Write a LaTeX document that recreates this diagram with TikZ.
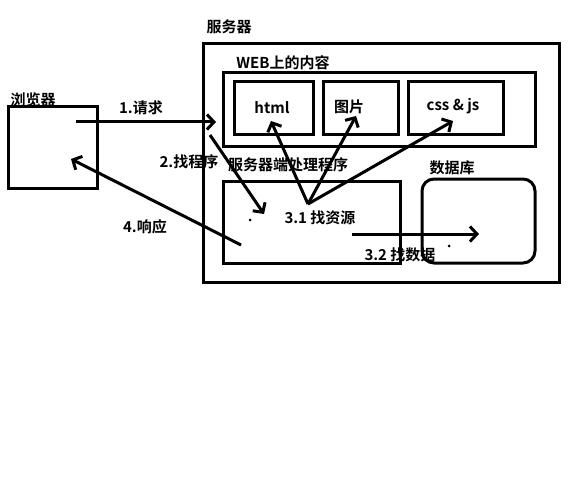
\documentclass[tikz,border=0pt]{standalone}
\usepackage{fontspec}
\setmainfont{Noto Sans CJK SC}[BoldFont={Noto Sans CJK SC Bold}]
\usetikzlibrary{arrows.meta}
\begin{document}
\begin{tikzpicture}[x=1pt,y=-1pt,
  box/.style={draw,line width=3pt,inner sep=0pt},
  lbl/.style={font=\fontsize{15pt}{17pt}\selectfont\bfseries,inner sep=0pt},
  arr/.style={line width=3pt,-{Straight Barb[length=7pt,width=15pt,line width=3pt]}},
  ln/.style={line width=3pt}]
\useasboundingbox (0,0) rectangle (586,500);
\fill[white] (0,0) rectangle (586,500);
% boxes
\node[box,minimum width=89pt,minimum height=81pt] (browser) at (52.5,147.5) {};
\node[box,minimum width=356pt,minimum height=238pt] (server) at (381,163) {};
\node[box,minimum width=312pt,minimum height=73pt] (web) at (379,109.5) {};
\node[box,minimum width=79pt,minimum height=53pt] (html) at (273.5,108.5) {};
\node[box,minimum width=75pt,minimum height=53pt] (pic) at (360.5,108.5) {};
\node[box,minimum width=95pt,minimum height=53pt] (css) at (455.5,108.5) {};
\node[box,minimum width=177pt,minimum height=82pt] (handler) at (311.5,222) {};
\node[box,rounded corners=12pt,minimum width=113pt,minimum height=84pt] (db) at (478.5,221) {};
% texts in boxes
\node[lbl] (thtml) at (272,108) {html};
\node[lbl] (tpic) at (349,107) {图片};
\node[lbl] (tcss) at (453,106) {css \& js};
% labels
\node[lbl] (lbrowser) at (33,100) {浏览器};
\node[lbl] (lserver) at (229,27) {服务器};
\node[lbl] (lweb) at (283,63) {WEB上的内容};
\node[lbl] (lhandler) at (288,165) {服务器端处理程序};
\node[lbl] (ldb) at (452,168) {数据库};
\node[lbl] (l1) at (141,108) {1.请求};
\node[lbl] (l2) at (189,162) {2.找程序};
\node[lbl] (l4) at (145,227) {4.响应};
\node[lbl] (l31) at (320,218) {3.1 找资源};
\node[lbl] (l32) at (400,255) {3.2 找数据};
% coordinates
\coordinate (a1s) at (76,122);
\coordinate (a1e) at (216,122);
\coordinate (a2s) at (210,135);
\coordinate (a2e) at (264,214);
\coordinate (a4s) at (241,245);
\coordinate (a4e) at (71,159);
\coordinate (hub) at (308,204);
\coordinate (thtmlp) at (271,121);
\coordinate (tpicp) at (356,116);
\coordinate (tcssp) at (453,121);
\coordinate (a32s) at (352,234);
\coordinate (a32e) at (479,234);
% arrows
\draw[arr] (a1s) -- (a1e);
\draw[arr] (a2s) -- (a2e);
\draw[arr] (a4s) -- (a4e);
\draw[arr] (hub) -- (thtmlp);
\draw[arr] (hub) -- (tpicp);
\draw[arr] (hub) -- (tcssp);
\draw[arr] (a32s) -- (a32e);
% dots
\fill (250,220) circle (1.5pt);
\fill (449,246) circle (1.5pt);
\end{tikzpicture}
\end{document}
